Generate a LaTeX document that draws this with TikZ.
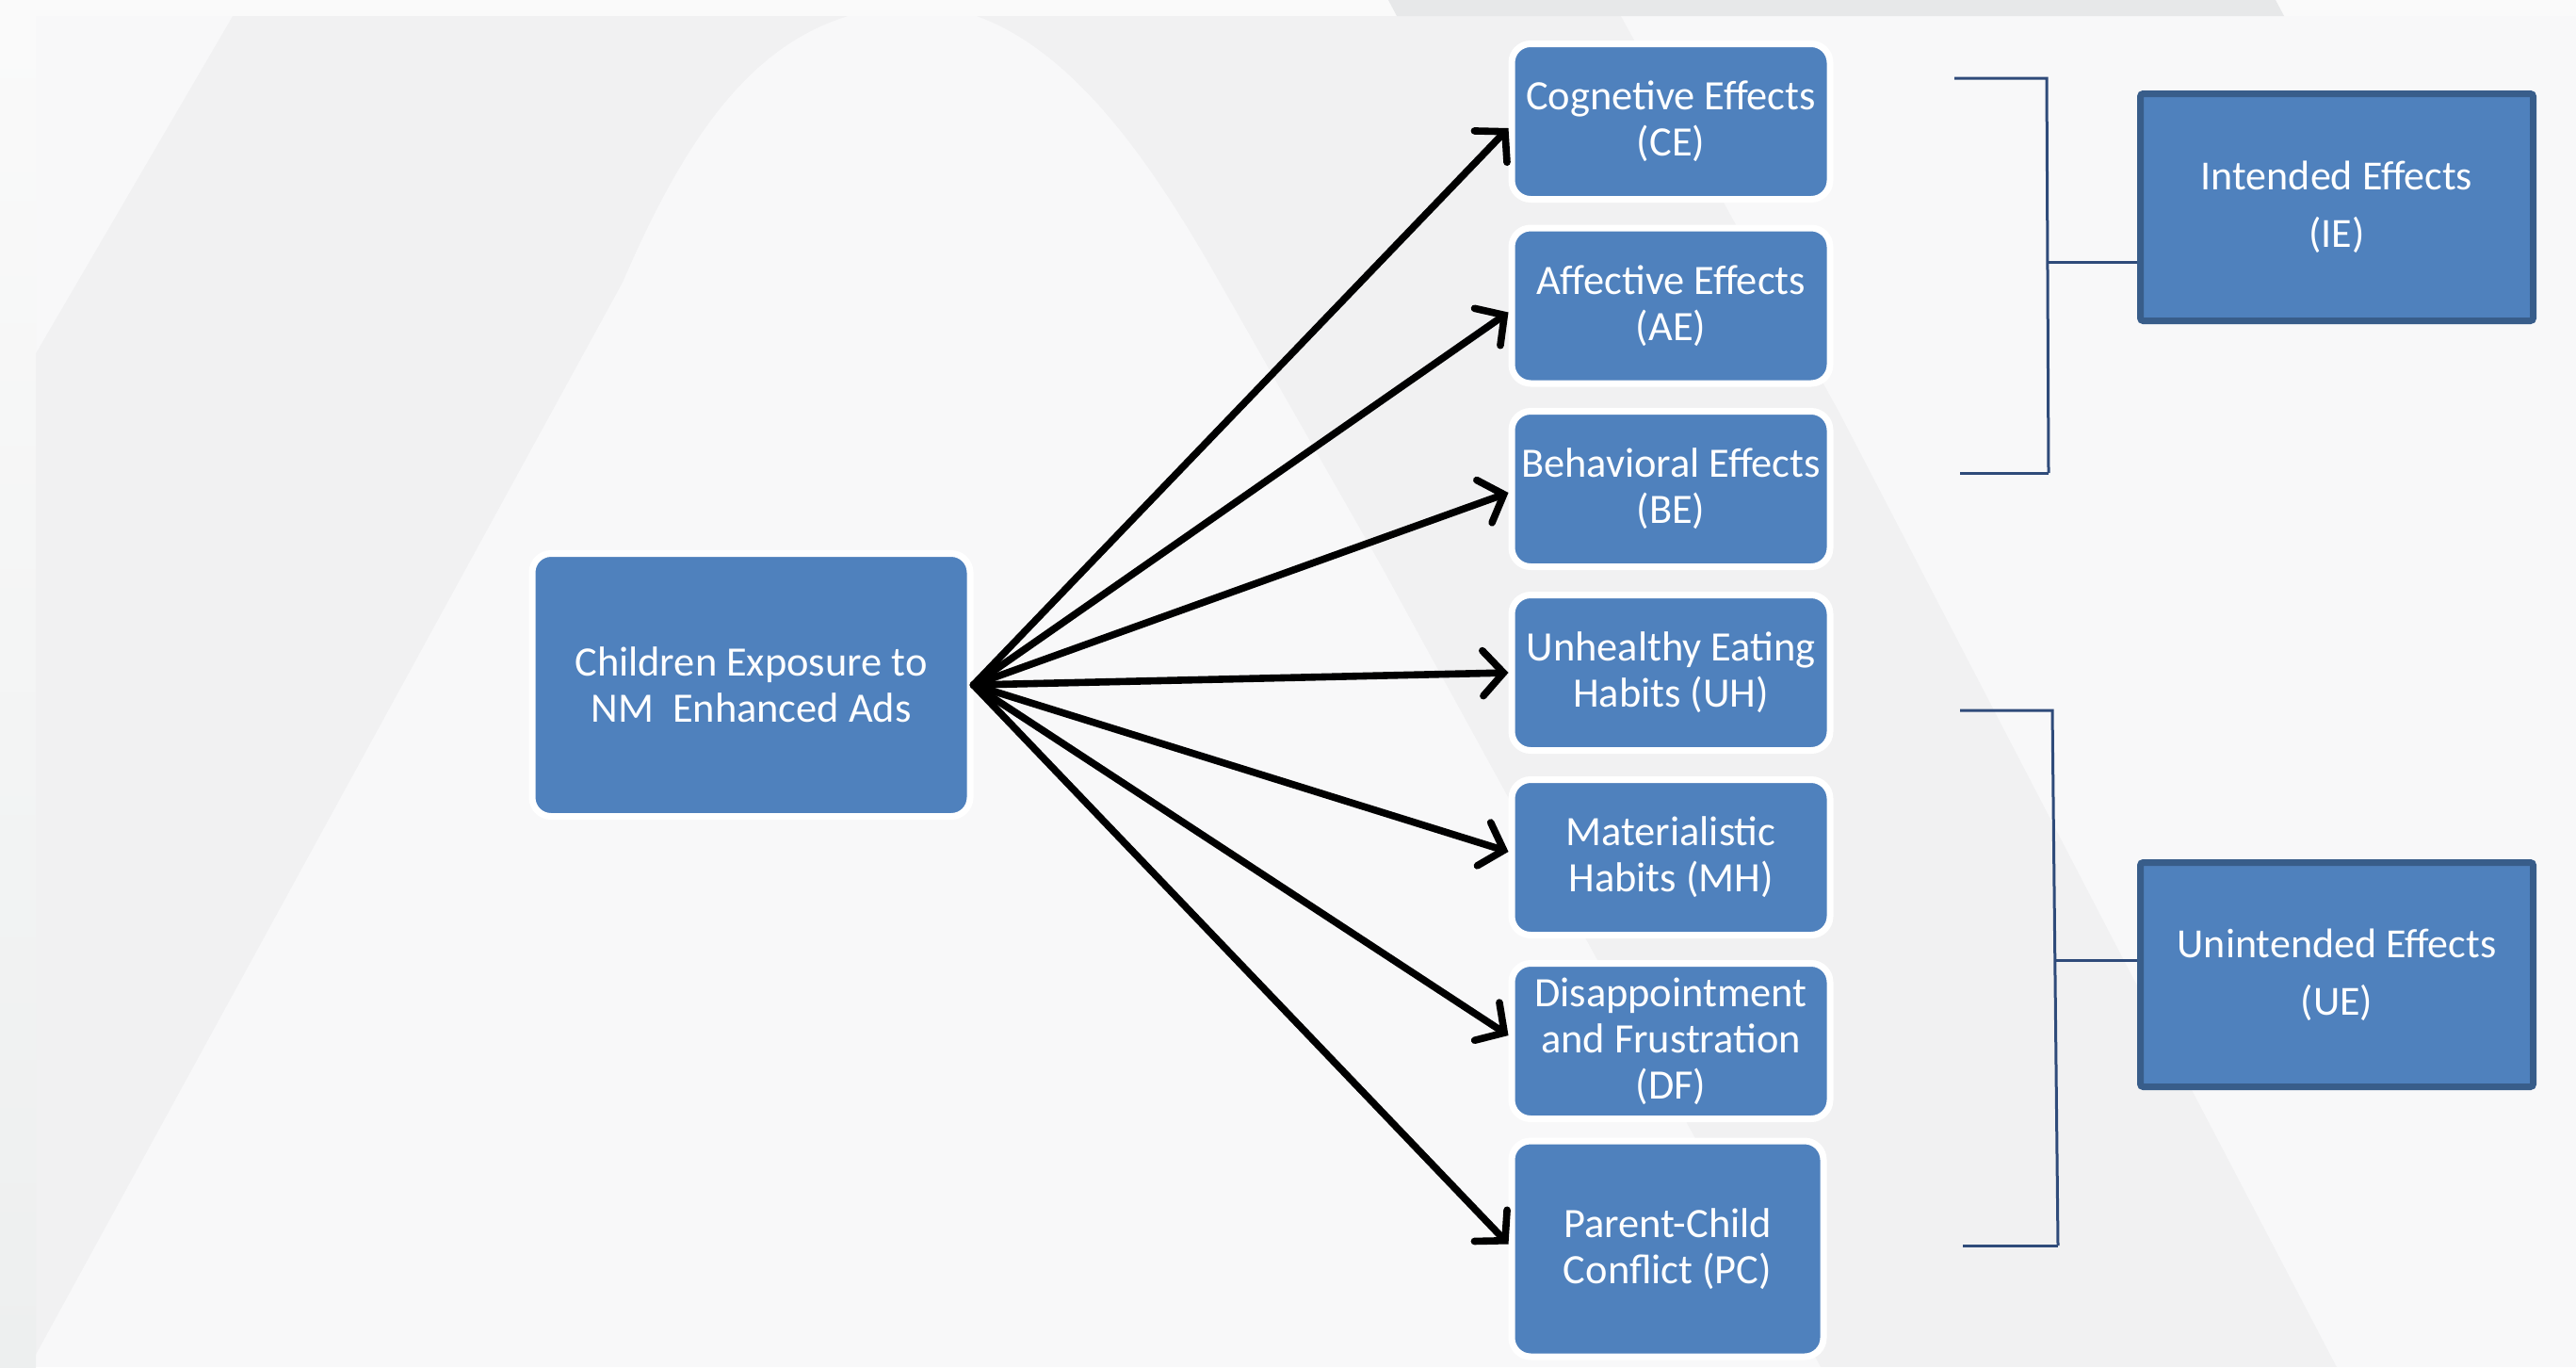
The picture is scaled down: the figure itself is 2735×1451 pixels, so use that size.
\documentclass[tikz,border=0pt]{standalone}
\usepackage{fontspec}
\setmainfont{Carlito}
\usetikzlibrary{arrows.meta,calc}
\definecolor{boxblue}{HTML}{4F81BD}
\definecolor{boxedge}{HTML}{385D8A}
\definecolor{brk}{HTML}{2F4B7A}
\definecolor{bgbase}{HTML}{F1F1F2}
\definecolor{bglight}{HTML}{F8F8F9}
\definecolor{bgstrip}{HTML}{FAFAFA}
\definecolor{bgband}{HTML}{E7E8E9}
\definecolor{bgleft}{HTML}{EDEFEF}
\begin{document}
\begin{tikzpicture}[x=0.5pt,y=-0.5pt,
 effbox/.style={draw=white, line width=3.5pt, fill=boxblue, rounded corners=10pt, text=white, align=center, inner sep=0pt, font=\fontsize{22.2}{24.5}\selectfont, minimum width=169pt, minimum height=82.5pt},
 groupbox/.style={draw=boxedge, line width=3.5pt, fill=boxblue, rounded corners=1.5pt, text=white, align=center, inner sep=0pt, font=\fontsize{22}{30.5}\selectfont, minimum width=208.5pt, minimum height=120pt},
 arr/.style={line width=3.8pt, line cap=round, -{Straight Barb[length=11pt,width=24pt,line cap=round]}},
 brack/.style={draw=brk, line width=1.5pt}]
\useasboundingbox (0,0) rectangle (2735,1451);
% background
\fill[bgbase] (0,0) rectangle (2735,1451);
\fill[bglight] (38,17) -- (247,17) -- (38,375) -- cycle;
\fill[bglight] (38,1451) -- (38,1438) -- (661,300) .. controls (745,105) and (830,10) .. (975,5) .. controls (1110,10) and (1210,150) .. (1295,300) -- (1466,600) -- (1933,1451) -- cycle;
\fill[bglight] (1721,17) -- (2735,17) -- (2735,1451) -- (2481,1451) -- (2423,1340) -- (2245,1000) -- (1953,438) -- cycle;
\fill[bgstrip] (0,0) rectangle (2735,17);
\fill[bgband] (1474,0) -- (2416,0) -- (2425,17) -- (1483,17) -- cycle;
\shade[top color=bgstrip, bottom color=bgleft] (0,17) rectangle (38,1451);
% nodes
\node[effbox, minimum width=232.5pt, minimum height=139.5pt] (main) at (797.5,727) {Children Exposure to\\NM\ \ Enhanced Ads};
\node[effbox] (ce) at (1774,129) {\raisebox{-1.5pt}{\parbox{160pt}{\centering Cognetive Effects\\(CE)}}};
\node[effbox] (ae) at (1774,324.5) {\raisebox{-1.5pt}{\parbox{160pt}{\centering Affective Effects\\(AE)}}};
\node[effbox] (be) at (1774,519) {\raisebox{-1.5pt}{\parbox{165pt}{\centering Behavioral Effects\\(BE)}}};
\node[effbox] (uh) at (1774,714) {\raisebox{-1.5pt}{\parbox{160pt}{\centering Unhealthy Eating\\Habits (UH)}}};
\node[effbox] (mh) at (1774,910) {\raisebox{-1.5pt}{\parbox{160pt}{\centering Materialistic\\Habits (MH)}}};
\node[effbox] (df) at (1774,1105) {Disappointment\\and Frustration\\(DF)};
\node[effbox, minimum width=165.5pt, minimum height=114.5pt] (pc) at (1770.5,1325.5) {Parent-Child\\Conflict (PC)};
\node[groupbox, minimum height=120.5pt] (ie) at (2481,220) {Intended Effects\\(IE)};
\node[groupbox, minimum height=119pt] (ue) at (2481,1034.5) {Unintended Effects\\(UE)};
% brackets
\coordinate (it) at (2075,83);
\coordinate (itc) at (2173,83);
\coordinate (ibc) at (2175,502);
\coordinate (ib) at (2081,502);
\coordinate (im) at (2174,278);
\draw[brack] (it) -- (itc) -- (ibc);
\draw[brack] (ib) -- (ibc);
\draw[brack] (im) -- (im -| ie.west);
\coordinate (ut) at (2081,754);
\coordinate (utc) at (2179,754);
\coordinate (ubc) at (2185,1322);
\coordinate (ub) at (2084,1322);
\coordinate (um) at (2182,1019);
\draw[brack] (ut) -- (utc) -- (ubc);
\draw[brack] (ub) -- (ubc);
\draw[brack] (um) -- (um -| ue.west);
% arrows
\draw[arr] (main.east) -- ($(ce.west)+(0,7)$);
\draw[arr] (main.east) -- ($(ae.west)+(0,7)$);
\draw[arr] (main.east) -- ($(be.west)+(0,4)$);
\draw[arr] (main.east) -- (uh.west);
\draw[arr] (main.east) -- ($(mh.west)+(0,-6)$);
\draw[arr] (main.east) -- ($(df.west)+(0,-6)$);
\draw[arr] (main.east) -- ($(pc.west)+(0,-5)$);
\end{tikzpicture}
\end{document}
